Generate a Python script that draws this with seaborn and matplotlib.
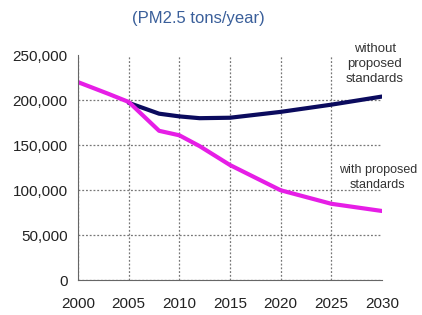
import pandas as pd
import numpy as np
import seaborn as sns
import matplotlib.pyplot as plt

# data
years_without = [2005, 2008, 2010, 2012, 2015, 2020, 2025, 2030]
without_std = [197000, 185000, 182000, 180000, 180500, 187000, 195000, 204000]
years_with = [2000, 2003, 2005, 2008, 2010, 2012, 2015, 2020, 2025, 2030]
with_std = [220000, 207000, 198000, 166000, 161000, 149000, 128000, 100000, 85000, 77000]
x_ticks = [2000, 2005, 2010, 2015, 2020, 2025, 2030]
y_ticks = [0, 50000, 100000, 150000, 200000, 250000]

df = pd.concat([
    pd.DataFrame({"year": years_without, "value": without_std, "case": "without"}),
    pd.DataFrame({"year": years_with, "value": with_std, "case": "with"}),
])

sns.set_style("white")
plt.rcParams['font.family'] = ['Liberation Sans', 'DejaVu Sans']

f, ax = plt.subplots(figsize=(4.22, 3.15), dpi=100)
f.subplots_adjust(left=0.185, right=0.905, top=0.825, bottom=0.11)

sns.lineplot(data=df, x="year", y="value", hue="case",
             palette={"without": "#0b0b5e", "with": "#e61ee6"},
             linewidth=3, legend=False, ax=ax)

ax.set_xlim(2000, 2030)
ax.set_ylim(0, 250000)
ax.set_xticks(x_ticks)
ax.set_yticks(y_ticks)
ax.set_yticklabels([f"{v:,}" for v in y_ticks])
ax.grid(True, linestyle=(0, (1.5, 1.5)), color="#777777", linewidth=0.9)
# no grid line along the top and right edges
ax.get_xgridlines()[-1].set_visible(False)
ax.get_ygridlines()[-1].set_visible(False)
ax.set(xlabel=None, ylabel=None)
for s in ["top", "right"]:
    ax.spines[s].set_visible(False)
for s in ["left", "bottom"]:
    ax.spines[s].set_color("#666666")
ax.tick_params(axis="both", length=4, color="#666666", labelsize=11, labelcolor="#222222")
ax.tick_params(axis="x", pad=8)

ax.text(2029.3, 217000, "without\nproposed\nstandards", ha="center", va="bottom",
        fontsize=9.5, color="#333333", linespacing=1.3)
ax.text(2029.6, 99000, "with proposed\nstandards", ha="center", va="bottom",
        fontsize=9, color="#333333", linespacing=1.35)
f.text(0.47, 0.94, "(PM2.5 tons/year)", ha="center", va="center",
       fontsize=12, color="#3a5f9a")

f.savefig("out.png", dpi=100)
